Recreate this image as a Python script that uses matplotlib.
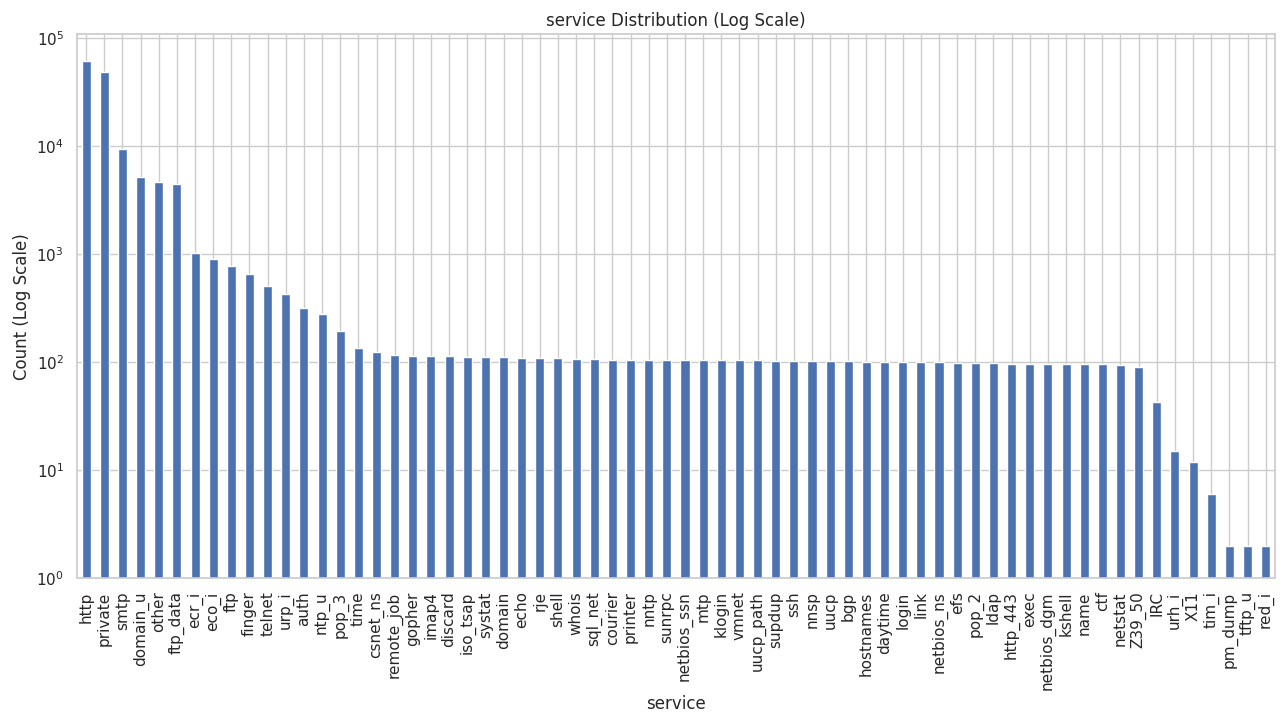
import matplotlib
matplotlib.use("Agg")
import matplotlib.pyplot as plt
import seaborn as sns
import pandas as pd

services = [
    "http", "private", "smtp", "domain_u", "other", "ftp_data", "ecr_i", "eco_i",
    "ftp", "finger", "telnet", "urp_i", "auth", "ntp_u", "pop_3", "time",
    "csnet_ns", "remote_job", "gopher", "imap4", "discard", "iso_tsap", "systat",
    "domain", "echo", "rje", "shell", "whois", "sql_net", "courier", "printer",
    "nntp", "sunrpc", "netbios_ssn", "mtp", "klogin", "vmnet", "uucp_path",
    "supdup", "ssh", "nnsp", "uucp", "bgp", "hostnames", "daytime", "login",
    "link", "netbios_ns", "efs", "pop_2", "ldap", "http_443", "exec",
    "netbios_dgm", "kshell", "name", "ctf", "netstat", "Z39_50", "IRC", "urh_i",
    "X11", "tim_i", "pm_dump", "tftp_u", "red_i",
]
counts = [
    60350, 48100, 9310, 5200, 4610, 4420, 1010, 894,
    770, 649, 502, 429, 318, 280, 194, 135,
    124, 116, 114, 114, 114, 111, 111,
    111, 109, 109, 109, 107, 107, 104, 104,
    104, 104, 104, 104, 104, 104, 104,
    102, 102, 102, 102, 102, 100, 100, 100,
    100, 100, 98, 98, 98, 96, 96,
    96, 96, 96, 96, 94, 90, 43, 15,
    12, 6, 2, 2, 2,
]

sns.set_theme(style="whitegrid")

vc = pd.Series(counts, index=pd.Index(services, name="service"))

fig, ax = plt.subplots(figsize=(12.85, 7.12), dpi=100)
vc.plot(kind="bar", logy=True, ax=ax, color="#4C72B0")
ax.set_ylim(1, 1.08e5)
ax.set_title("service Distribution (Log Scale)")
ax.set_xlabel("service")
ax.set_ylabel("Count (Log Scale)")

fig.subplots_adjust(left=0.06, right=0.992, top=0.952, bottom=0.188)
fig.savefig("out.png", dpi=100)
